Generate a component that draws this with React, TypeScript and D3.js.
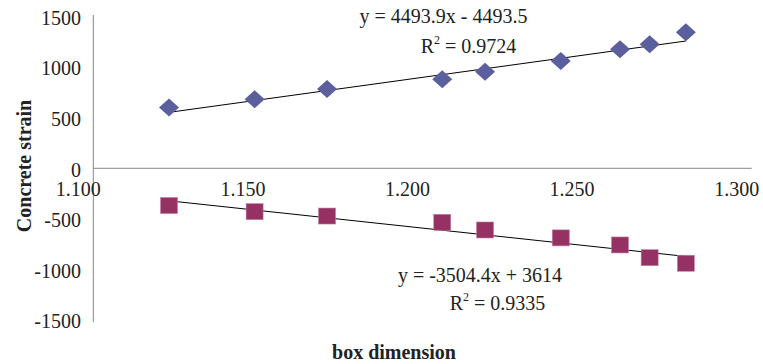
import React from "react";
import * as d3 from "d3";

// Box dimension readings shared by both strain series
const boxDimension = [1.123, 1.149, 1.171, 1.206, 1.219, 1.242, 1.26, 1.269, 1.28];
// Tensile-side strain (diamonds) and compressive-side strain (squares)
const strainUpper = [601, 682, 784, 880, 955, 1061, 1177, 1226, 1345];
const strainLower = [-368, -429, -472, -534, -610, -688, -758, -884, -939];

// Linear trend lines: [slope, intercept, R²]
const fitUpper = [4493.9, -4493.5, 0.9724];
const fitLower = [-3504.4, 3614, 0.9335];

const xTicks = [1.1, 1.15, 1.2, 1.25, 1.3];
const yTicks = [-1500, -1000, -500, 0, 500, 1000, 1500];

const W = 763;
const H = 364;
const FONT = '"Liberation Serif", "DejaVu Serif", serif';

export default function App() {
  const x = d3.scaleLinear().domain([1.1, 1.3]).range([93.3, 751.7]);
  const y = d3.scaleLinear().domain([-1500, 1500]).range([320, 16.6]);

  const x0 = d3.min(boxDimension)!;
  const x1 = d3.max(boxDimension)!;
  const line = d3
    .line<[number, number]>()
    .x((d) => x(d[0]))
    .y((d) => y(d[1]));
  const trend = (f: number[]) =>
    line([
      [x0, f[0] * x0 + f[1]],
      [x1, f[0] * x1 + f[1]],
    ]) as string;

  const diamond = d3.symbol(d3.symbolSquare, 200)() as string;

  const fmtX = d3.format(".3f");
  const fmtFit = (f: number[]) => {
    const sign = f[1] < 0 ? "-" : "+";
    return `y = ${f[0]}x ${sign} ${Math.abs(f[1])}`;
  };

  const axisColor = "#868686";
  const txt = { fontFamily: FONT, fill: "#222" } as React.CSSProperties;

  return (
    <svg
      width={W}
      height={H}
      style={{ position: "absolute", left: 0, top: 0, background: "#fff", fontFamily: FONT }}
    >
      {/* axes */}
      <line x1={x(1.1)} x2={x(1.1)} y1={15} y2={322} stroke={axisColor} strokeWidth={1} />
      <line x1={x(1.1)} x2={x(1.3)} y1={y(0)} y2={y(0)} stroke={axisColor} strokeWidth={1} />

      {yTicks.map((t) => (
        <text key={`y${t}`} x={81} y={y(t) + 8.3} textAnchor="end" fontSize={20} style={txt}>
          {t}
        </text>
      ))}
      {xTicks.map((t) => (
        <text key={`x${t}`} x={x(t) - 15} y={195.5} textAnchor="middle" fontSize={20} style={txt}>
          {fmtX(t)}
        </text>
      ))}

      {/* trend lines */}
      <path d={trend(fitUpper)} stroke="#000" strokeWidth={1} fill="none" />
      <path d={trend(fitLower)} stroke="#000" strokeWidth={1} fill="none" />

      {/* markers */}
      {boxDimension.map((b, i) => (
        <path
          key={`d${i}`}
          d={diamond}
          transform={`translate(${x(b)},${y(strainUpper[i])}) scale(1,0.9) rotate(45)`}
          fill="#5B5F9D"
        />
      ))}
      {boxDimension.map((b, i) => (
        <rect
          key={`s${i}`}
          x={x(b) - 8.5}
          y={y(strainLower[i]) - 8}
          width={17}
          height={16}
          fill="#953163"
          stroke="#c080a0"
          strokeWidth={0.6}
        />
      ))}

      {/* trend line equations */}
      <text x={443.5} y={23.3} textAnchor="middle" fontSize={20} style={txt}>
        {fmtFit(fitUpper)}
      </text>
      <text x={468.5} y={53.3} textAnchor="middle" fontSize={20} style={txt}>
        R<tspan fontSize={12} dy={-9}>2</tspan>
        <tspan dy={9}> = {fitUpper[2]}</tspan>
      </text>
      <text x={480} y={281.7} textAnchor="middle" fontSize={20} style={txt}>
        {fmtFit(fitLower)}
      </text>
      <text x={497.5} y={310} textAnchor="middle" fontSize={20} style={txt}>
        R<tspan fontSize={12} dy={-9}>2</tspan>
        <tspan dy={9}> = {fitLower[2]}</tspan>
      </text>

      {/* axis titles */}
      <text x={394} y={359} textAnchor="middle" fontSize={20} fontWeight="bold" style={txt}>
        box dimension
      </text>
      <text
        transform={`translate(31,166) rotate(-90)`}
        textAnchor="middle"
        fontSize={20}
        fontWeight="bold"
        style={txt}
      >
        Concrete strain
      </text>
    </svg>
  );
}
